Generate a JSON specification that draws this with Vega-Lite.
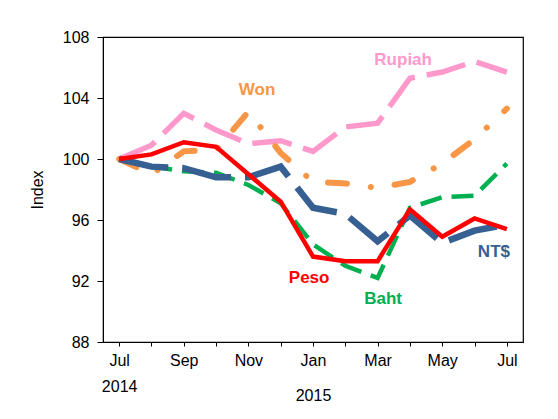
{
  "$schema": "https://vega.github.io/schema/vega-lite/v6.json",
  "width": 420,
  "height": 305,
  "autosize": {"type": "none"},
  "padding": {"left": 103, "top": 37, "right": 35, "bottom": 77},
  "background": "white",
  "config": {
    "font": "Liberation Sans",
    "view": {"stroke": "#000000", "strokeWidth": 1.2},
    "axis": {"grid": false, "domainColor": "#000000", "tickColor": "#000000", "labelColor": "#000000", "titleColor": "#000000", "labelFont": "Liberation Sans", "titleFont": "Liberation Sans", "labelFontSize": 16, "titleFontSize": 16, "titleFontWeight": "normal"}
  },
  "datasets": {
    "rates": [
      {"m": 0, "month": "Jul 2014", "series": "Rupiah", "value": 100},
      {"m": 1, "month": "Aug 2014", "series": "Rupiah", "value": 100.9},
      {"m": 2, "month": "Sep 2014", "series": "Rupiah", "value": 103.0},
      {"m": 3, "month": "Oct 2014", "series": "Rupiah", "value": 101.9},
      {"m": 4, "month": "Nov 2014", "series": "Rupiah", "value": 101.0},
      {"m": 5, "month": "Dec 2014", "series": "Rupiah", "value": 101.2},
      {"m": 6, "month": "Jan 2015", "series": "Rupiah", "value": 100.5},
      {"m": 7, "month": "Feb 2015", "series": "Rupiah", "value": 102.1},
      {"m": 8, "month": "Mar 2015", "series": "Rupiah", "value": 102.35},
      {"m": 9, "month": "Apr 2015", "series": "Rupiah", "value": 105.3},
      {"m": 10, "month": "May 2015", "series": "Rupiah", "value": 105.7},
      {"m": 11, "month": "Jun 2015", "series": "Rupiah", "value": 106.4},
      {"m": 12, "month": "Jul 2015", "series": "Rupiah", "value": 105.7},

      {"m": 0, "month": "Jul 2014", "series": "Won", "value": 100},
      {"m": 1, "month": "Aug 2014", "series": "Won", "value": 99.0},
      {"m": 2, "month": "Sep 2014", "series": "Won", "value": 100.5},
      {"m": 3, "month": "Oct 2014", "series": "Won", "value": 100.6},
      {"m": 4, "month": "Nov 2014", "series": "Won", "value": 103.1},
      {"m": 5, "month": "Dec 2014", "series": "Won", "value": 100.4},
      {"m": 6, "month": "Jan 2015", "series": "Won", "value": 98.5},
      {"m": 7, "month": "Feb 2015", "series": "Won", "value": 98.4},
      {"m": 8, "month": "Mar 2015", "series": "Won", "value": 98.1},
      {"m": 9, "month": "Apr 2015", "series": "Won", "value": 98.5},
      {"m": 10, "month": "May 2015", "series": "Won", "value": 99.7},
      {"m": 11, "month": "Jun 2015", "series": "Won", "value": 101.3},
      {"m": 12, "month": "Jul 2015", "series": "Won", "value": 103.3},

      {"m": 0, "month": "Jul 2014", "series": "Baht", "value": 100},
      {"m": 1, "month": "Aug 2014", "series": "Baht", "value": 99.5},
      {"m": 2, "month": "Sep 2014", "series": "Baht", "value": 99.2},
      {"m": 3, "month": "Oct 2014", "series": "Baht", "value": 99.1},
      {"m": 4, "month": "Nov 2014", "series": "Baht", "value": 98.3},
      {"m": 5, "month": "Dec 2014", "series": "Baht", "value": 97.1},
      {"m": 6, "month": "Jan 2015", "series": "Baht", "value": 94.4},
      {"m": 7, "month": "Feb 2015", "series": "Baht", "value": 93.0},
      {"m": 8, "month": "Mar 2015", "series": "Baht", "value": 92.2},
      {"m": 9, "month": "Apr 2015", "series": "Baht", "value": 96.8},
      {"m": 10, "month": "May 2015", "series": "Baht", "value": 97.5},
      {"m": 11, "month": "Jun 2015", "series": "Baht", "value": 97.6},
      {"m": 12, "month": "Jul 2015", "series": "Baht", "value": 99.7},

      {"m": 0, "month": "Jul 2014", "series": "NT$", "value": 100},
      {"m": 1, "month": "Aug 2014", "series": "NT$", "value": 99.5},
      {"m": 2, "month": "Sep 2014", "series": "NT$", "value": 99.4},
      {"m": 3, "month": "Oct 2014", "series": "NT$", "value": 98.8},
      {"m": 4, "month": "Nov 2014", "series": "NT$", "value": 98.8},
      {"m": 5, "month": "Dec 2014", "series": "NT$", "value": 99.5},
      {"m": 6, "month": "Jan 2015", "series": "NT$", "value": 96.8},
      {"m": 7, "month": "Feb 2015", "series": "NT$", "value": 96.4},
      {"m": 8, "month": "Mar 2015", "series": "NT$", "value": 94.6},
      {"m": 9, "month": "Apr 2015", "series": "NT$", "value": 96.3},
      {"m": 10, "month": "May 2015", "series": "NT$", "value": 94.5},
      {"m": 11, "month": "Jun 2015", "series": "NT$", "value": 95.3},
      {"m": 12, "month": "Jul 2015", "series": "NT$", "value": 95.7},

      {"m": 0, "month": "Jul 2014", "series": "Peso", "value": 100},
      {"m": 1, "month": "Aug 2014", "series": "Peso", "value": 100.3},
      {"m": 2, "month": "Sep 2014", "series": "Peso", "value": 101.1},
      {"m": 3, "month": "Oct 2014", "series": "Peso", "value": 100.8},
      {"m": 4, "month": "Nov 2014", "series": "Peso", "value": 99.0},
      {"m": 5, "month": "Dec 2014", "series": "Peso", "value": 97.2},
      {"m": 6, "month": "Jan 2015", "series": "Peso", "value": 93.6},
      {"m": 7, "month": "Feb 2015", "series": "Peso", "value": 93.3},
      {"m": 8, "month": "Mar 2015", "series": "Peso", "value": 93.3},
      {"m": 9, "month": "Apr 2015", "series": "Peso", "value": 96.7},
      {"m": 10, "month": "May 2015", "series": "Peso", "value": 94.9},
      {"m": 11, "month": "Jun 2015", "series": "Peso", "value": 96.1},
      {"m": 12, "month": "Jul 2015", "series": "Peso", "value": 95.4}
    ],
    "labels": [
      {"m": 8.79, "value": 106.5, "series": "Rupiah", "label": "Rupiah"},
      {"m": 4.27, "value": 104.5, "series": "Won", "label": "Won"},
      {"m": 5.88, "value": 92.2, "series": "Peso", "label": "Peso"},
      {"m": 8.17, "value": 90.85, "series": "Baht", "label": "Baht"},
      {"m": 11.6, "value": 93.9, "series": "NT$", "label": "NT$"}
    ]
  },
  "encoding": {
    "x": {
      "field": "m", "type": "quantitative",
      "scale": {"domain": [-0.5, 12.5], "nice": false, "zero": false},
      "axis": {
        "values": [0, 1, 2, 3, 4, 5, 6, 7, 8, 9, 10, 11, 12],
        "labelExpr": "datum.value == 0 ? ['Jul', '2014'] : (datum.value % 2 == 0 ? ['Jul','Aug','Sep','Oct','Nov','Dec','Jan','Feb','Mar','Apr','May','Jun','Jul'][datum.value] : '')",
        "labelLineHeight": 26,
        "labelBaseline": "top",
        "labelPadding": 6,
        "tickSize": 4,
        "labelFlush": false,
        "labelOverlap": false,
        "title": "2015",
        "titleY": 53,
        "titleBaseline": "middle"
      }
    },
    "y": {
      "field": "value", "type": "quantitative",
      "scale": {"domain": [88, 108], "nice": false, "zero": false},
      "axis": {"values": [88, 92, 96, 100, 104, 108], "tickSize": 6, "labelPadding": 8, "title": "Index", "titlePadding": 17}
    }
  },
  "layer": [
    {
      "mark": {"type": "rule", "color": "#000000", "strokeWidth": 1.2},
      "encoding": {"y": {"datum": 100}, "x": null}
    },
    {
      "data": {"name": "rates"},
      "transform": [{"filter": "datum.series == 'Rupiah'"}],
      "mark": {"type": "line", "color": "#FF99CC", "strokeWidth": 5.5, "strokeDash": [40, 12], "strokeCap": "butt"}
    },
    {
      "data": {"name": "rates"},
      "transform": [{"filter": "datum.series == 'Won'"}],
      "mark": {"type": "line", "color": "#F79646", "strokeWidth": 6, "strokeDash": [19, 24, 0.1, 24], "strokeCap": "round"}
    },
    {
      "data": {"name": "rates"},
      "transform": [{"filter": "datum.series == 'Baht'"}],
      "mark": {"type": "line", "color": "#00B050", "strokeWidth": 4.5, "strokeDash": [22, 10], "strokeCap": "butt"}
    },
    {
      "data": {"name": "rates"},
      "transform": [{"filter": "datum.series == 'NT$'"}],
      "mark": {"type": "line", "color": "#376092", "strokeWidth": 6.5, "strokeDash": [50, 14], "strokeCap": "butt"}
    },
    {
      "data": {"name": "rates"},
      "transform": [{"filter": "datum.series == 'Peso'"}],
      "mark": {"type": "line", "color": "#FF0000", "strokeWidth": 4.5, "strokeCap": "butt"}
    },
    {
      "data": {"name": "labels"},
      "mark": {"type": "text", "font": "Liberation Sans", "fontSize": 17, "fontWeight": "bold", "align": "center", "baseline": "middle"},
      "encoding": {
        "text": {"field": "label"},
        "color": {
          "field": "series", "type": "nominal", "legend": null,
          "scale": {"domain": ["Rupiah", "Won", "Peso", "Baht", "NT$"], "range": ["#FF99CC", "#F79646", "#FF0000", "#00B050", "#376092"]}
        }
      }
    }
  ]
}
